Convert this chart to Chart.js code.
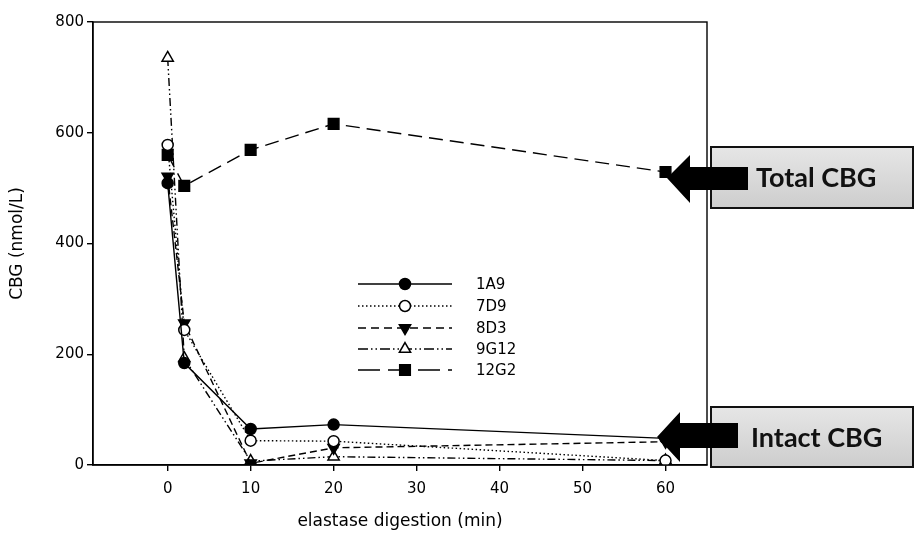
<!DOCTYPE html>
<html><head><meta charset="utf-8">
<script src="https://cdn.jsdelivr.net/npm/chart.js@4"></script>
<style>html,body{margin:0;padding:0;background:#fff}#wrap{width:915px;height:537px}</style>
</head><body><div id="wrap"><canvas id="c" width="915" height="537"></canvas></div>
<script>
const TIMES = [0, 2, 10, 20, 60];
const S_1A9 = [509, 184, 65, 73, 48];
const S_7D9 = [578, 244, 44, 43, 8];
const S_8D3 = [521, 256, 3, 31, 42];
const S_9G12 = [735, 193, 7, 15, 8];
const S_12G2 = [560, 504, 569, 616, 529];
const SERIES_NAMES = ['1A9', '7D9', '8D3', '9G12', '12G2'];
const X_TICKS = [0, 10, 20, 30, 40, 50, 60];
const Y_TICKS = [0, 200, 400, 600, 800];
const X_TITLE = 'elastase digestion (min)';
const Y_TITLE = 'CBG (nmol/L)';
const NOTE_TOTAL = 'Total CBG';
const NOTE_INTACT = 'Intact CBG';

const STYLES = [
  {ps:'circle', r:5.5, bg:'#000', rot:0, dash:[], ldash:[]},
  {ps:'circle', r:5.5, bg:'#fff', rot:0, dash:[1.5,2.5], ldash:[1.5,2.5]},
  {ps:'triangle', r:6.5, bg:'#000', rot:180, dash:[7,4], ldash:[8,5]},
  {ps:'triangle', r:6.5, bg:'#fff', rot:0, dash:[8,3,1.5,3,1.5,3], ldash:[10,3,1.5,3,1.5,3]},
  {ps:'rect', r:7.5, bg:'#000', rot:0, dash:[14,7], ldash:[22,8]}
];
const ALL = [S_1A9, S_7D9, S_8D3, S_9G12, S_12G2];

const datasets = ALL.map((vals, i) => ({
  label: SERIES_NAMES[i],
  data: TIMES.map((t, j) => ({x: t, y: vals[j]})),
  showLine: true,
  borderColor: '#000',
  borderWidth: 1.4,
  borderDash: STYLES[i].dash,
  pointStyle: STYLES[i].ps,
  pointRadius: STYLES[i].r,
  pointRotation: STYLES[i].rot,
  pointBackgroundColor: STYLES[i].bg,
  pointBorderColor: '#000',
  pointBorderWidth: 1.5,
  tension: 0
}));

function drawMarker(ctx, st, x, y) {
  ctx.save();
  ctx.setLineDash([]);
  ctx.fillStyle = st.bg; ctx.strokeStyle = '#000'; ctx.lineWidth = 1.5;
  ctx.beginPath();
  if (st.ps === 'circle') {
    ctx.arc(x, y, st.r, 0, Math.PI * 2);
  } else if (st.ps === 'rect') {
    const s = Math.SQRT1_2 * st.r;
    ctx.rect(x - s, y - s, 2 * s, 2 * s);
  } else {
    const r = st.r; const sign = st.rot === 180 ? -1 : 1;
    ctx.moveTo(x, y - sign * r);
    ctx.lineTo(x + r * 0.866, y + sign * r * 0.5);
    ctx.lineTo(x - r * 0.866, y + sign * r * 0.5);
    ctx.closePath();
  }
  ctx.fill(); ctx.stroke();
  ctx.restore();
}

const extras = {
  id: 'extras',
  afterDraw(chart) {
    const ctx = chart.ctx; const a = chart.chartArea;
    ctx.save();
    ctx.strokeStyle = '#000'; ctx.lineWidth = 1.4;
    ctx.strokeRect(a.left, a.top, a.right - a.left, a.bottom - a.top);
    ctx.restore();
    const rows = [284, 306, 328, 349, 370];
    ctx.save();
    ctx.font = '15px "DejaVu Sans"'; ctx.textBaseline = 'middle'; ctx.textAlign = 'left';
    rows.forEach((y, i) => {
      const st = STYLES[i];
      ctx.strokeStyle = '#000'; ctx.lineWidth = 1.4; ctx.setLineDash(st.ldash);
      ctx.beginPath(); ctx.moveTo(358, y); ctx.lineTo(452, y); ctx.stroke();
      drawMarker(ctx, st, 405, y);
      ctx.fillStyle = '#000';
      ctx.fillText(SERIES_NAMES[i], 476, y + 1);
    });
    ctx.restore();
    function box(y0, y1, text, tx) {
      ctx.save();
      const g = ctx.createLinearGradient(0, y0, 0, y1);
      g.addColorStop(0, '#e6e6e6'); g.addColorStop(1, '#cdcdcd');
      ctx.fillStyle = g;
      ctx.fillRect(711, y0, 202, y1 - y0);
      ctx.strokeStyle = '#111'; ctx.lineWidth = 2;
      ctx.strokeRect(711, y0, 202, y1 - y0);
      ctx.fillStyle = '#111';
      ctx.font = 'bold 27px Lato';
      ctx.textBaseline = 'middle'; ctx.textAlign = 'left';
      ctx.fillText(text, tx, (y0 + y1) / 2 + 1);
      ctx.restore();
    }
    box(147, 208, NOTE_TOTAL, 756);
    box(407, 467, NOTE_INTACT, 751);
    function arrow(tipX, tipY, baseX, headTop, headBot, shaftTop, shaftBot, endX) {
      ctx.save();
      ctx.fillStyle = '#000';
      ctx.beginPath();
      ctx.moveTo(tipX, tipY);
      ctx.lineTo(baseX, headTop);
      ctx.lineTo(baseX, shaftTop);
      ctx.lineTo(endX, shaftTop);
      ctx.lineTo(endX, shaftBot);
      ctx.lineTo(baseX, shaftBot);
      ctx.lineTo(baseX, headBot);
      ctx.closePath();
      ctx.fill();
      ctx.restore();
    }
    arrow(667, 178, 690, 155, 203, 167, 190, 748);
    arrow(657, 437, 680, 412, 462, 423, 448, 738);
  }
};

new Chart(document.getElementById('c'), {
  type: 'scatter',
  data: { datasets },
  options: {
    responsive: false,
    animation: false,
    devicePixelRatio: 1,
    layout: { padding: { left: 0, right: 208, top: 22, bottom: 0 } },
    plugins: { legend: { display: false }, tooltip: { enabled: false } },
    scales: {
      x: {
        type: 'linear', min: -9, max: 65,
        afterBuildTicks: s => { s.ticks = X_TICKS.map(v => ({value: v})); },
        afterFit: s => { s.height = 72; },
        grid: { drawOnChartArea: false, drawTicks: true, tickLength: 6, color: '#000', lineWidth: 1.4 },
        border: { display: true, color: '#000', width: 1.4 },
        ticks: { color: '#000', font: { family: 'DejaVu Sans', size: 15 }, padding: 9, maxRotation: 0, autoSkip: false },
        title: { display: true, text: X_TITLE, color: '#000', font: { family: 'DejaVu Sans', size: 17 }, padding: { top: 0, bottom: 5 } }
      },
      y: {
        type: 'linear', min: 0, max: 800,
        afterBuildTicks: s => { s.ticks = Y_TICKS.map(v => ({value: v})); },
        afterFit: s => { s.width = 93; },
        grid: { drawOnChartArea: false, drawTicks: true, tickLength: 6, color: '#000', lineWidth: 1.4 },
        border: { display: true, color: '#000', width: 1.4 },
        ticks: { color: '#000', font: { family: 'DejaVu Sans', size: 15 }, padding: 3, autoSkip: false },
        title: { display: true, text: Y_TITLE, color: '#000', font: { family: 'DejaVu Sans', size: 17 }, padding: { top: 7, bottom: 0 } }
      }
    }
  },
  plugins: [extras]
});
</script>
</body></html>
